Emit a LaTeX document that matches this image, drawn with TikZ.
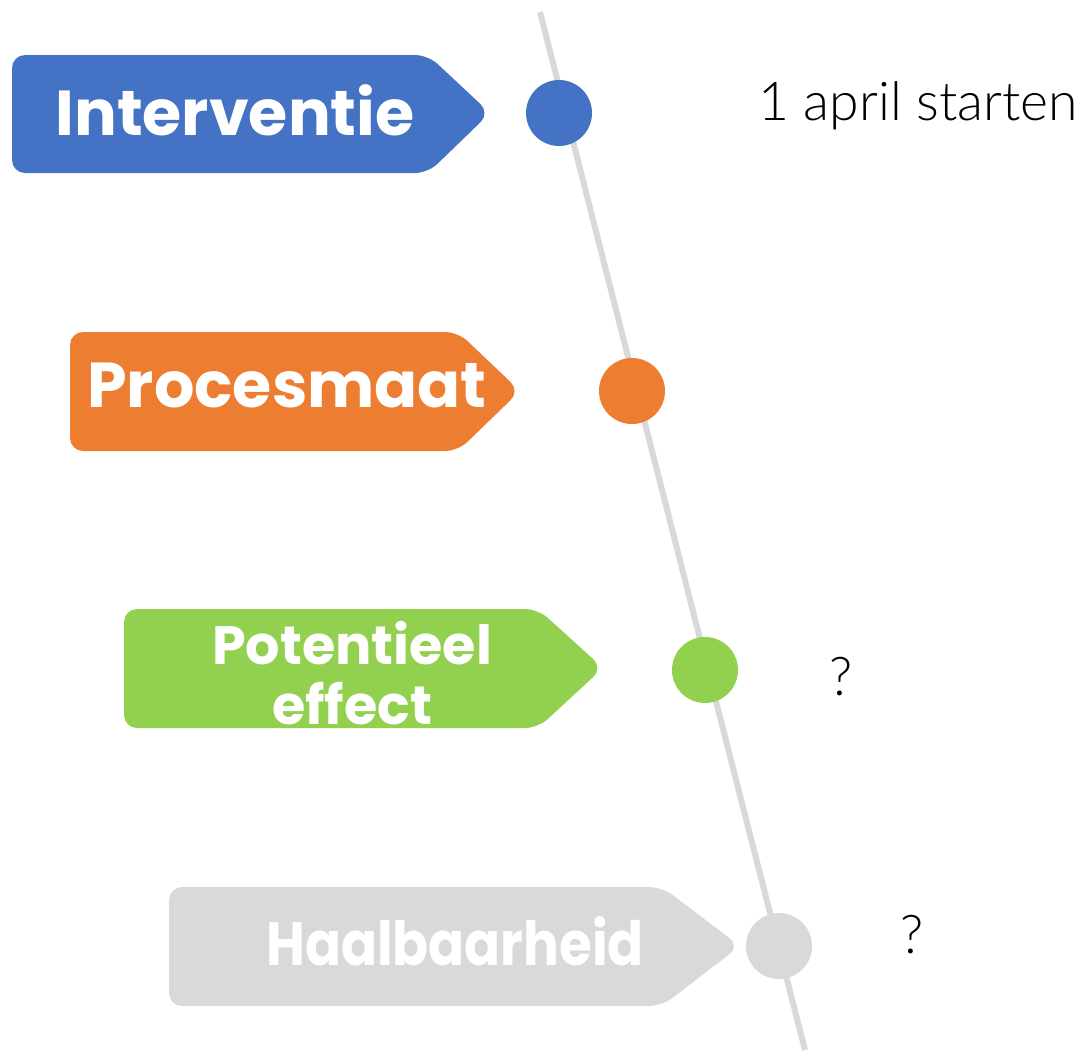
\documentclass[tikz,border=0pt]{standalone}
\usepackage{fontspec}
\setmainfont{Poppins}
\newfontfamily\notefont{Lato Light}
\usetikzlibrary{positioning,calc}

\definecolor{tagblue}{HTML}{4472C4}
\definecolor{tagorange}{HTML}{ED7D31}
\definecolor{taggreen}{HTML}{92D050}
\definecolor{taggrey}{HTML}{D9D9D9}

\begin{document}
\begin{tikzpicture}[
  x=1pt, y=-1pt,
  tagshape/.style={rounded corners=13pt},
  tagtext/.style={anchor=base, text=white, inner sep=0pt, align=center,
    font=\fontsize{63.5}{64}\selectfont\bfseries},
  dot/.style={circle, minimum size=66pt, inner sep=0pt},
  note/.style={anchor=base, inner sep=0pt, font=\fontsize{53.5}{60}\selectfont\notefont},
  timeline/.style={draw=taggrey, line width=6pt}
]
\useasboundingbox (0,0) rectangle (1087,1050);

% the time axis
\coordinate (start) at (540,12);
\coordinate (end) at (805,1050);
\draw[timeline] (start) -- (end);

% tags
\fill[tagshape, tagblue] (12,55) -- (428,55) -- (490,113) -- (428,173) -- (12,173) -- cycle;
\fill[tagshape, tagorange] (70,332) -- (458,332) -- (520,391) -- (458,451) -- (70,451) -- cycle;
\fill[tagshape, taggreen] (124,609) -- (538,609) -- (603,668) -- (538,728) -- (124,728) -- cycle;
\fill[tagshape, taggrey] (169,887) -- (662,887) -- (740,946) -- (662,1006) -- (169,1006) -- cycle;

\node[tagtext] (interventie) at (235,135) {Interventie};
\node[tagtext] (procesmaat) at (287,407) {Procesmaat};
% base of a two-line node is the baseline of its last line
\node[tagtext, font=\fontsize{54}{60}\selectfont\bfseries] (potentieel) at (352,724) {Potentieel\\effect};
\node[tagtext, font=\fontsize{61}{62}\selectfont\bfseries] (haalbaarheid) at (455,965) {\scalebox{0.87}[1]{Haalbaarheid}};

% milestones on the axis
\node[dot, fill=tagblue] (m1) at (559,113) {};
\node[dot, fill=tagorange] (m2) at (632,391) {};
\node[dot, fill=taggreen] (m3) at (705,670) {};
\node[dot, fill=taggrey] (m4) at (779,946) {};

% notes
\node[note] (start note) at (918,120) {1 april starten};
\node[note] (effect note) at (841,695) {?};
\node[note] (haalbaar note) at (912,953) {?};
\end{tikzpicture}
\end{document}
